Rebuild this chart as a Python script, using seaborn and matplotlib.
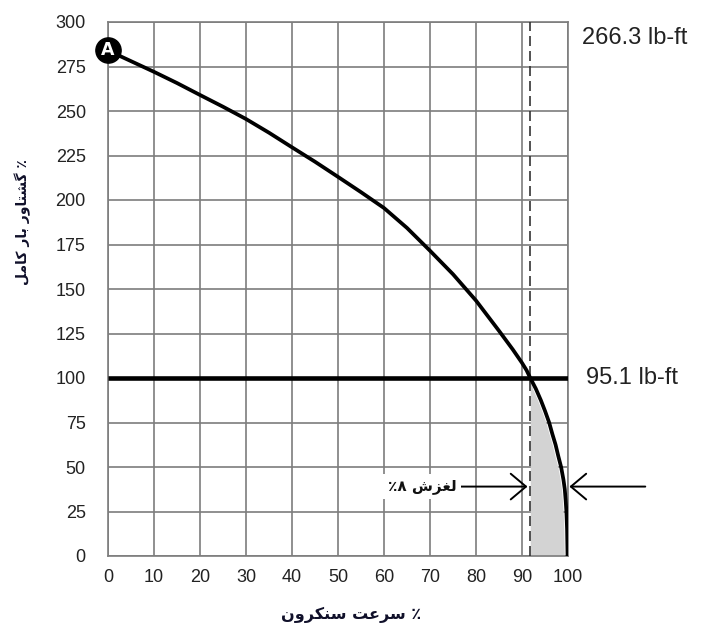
import numpy as np
import pandas as pd
import matplotlib
matplotlib.use("Agg")
import matplotlib.pyplot as plt
import seaborn as sns

# ---------------- data ----------------
speed_pct = [0, 5, 10, 15, 20, 25, 30, 35, 40, 45, 50, 55, 60, 65, 70, 75, 80, 85, 88, 90,
             91, 91.8, 93, 94.1, 95, 95.9, 96.6, 97.3, 97.9, 98.5, 99, 99.3, 99.5, 99.65, 99.8, 99.9]
torque_pct = [284, 278, 272, 265.7, 259, 252.4, 245.5, 237.8, 229.6, 221.5, 213, 204.4, 195.5, 184.3, 171.5, 158.3, 143.5, 126.5, 116, 108.5,
              104.3, 100, 94, 87.5, 81.5, 75, 68.5, 62.5, 56, 50, 43, 37.5, 31, 25, 15, 0]
full_load_pct = 100
slip_speed = 91.8
synchronous_speed = 100
arrow_level = 39
x_ticks = list(range(0, 101, 10))
y_ticks = list(range(0, 301, 25))
max_torque_label = "266.3 lb-ft"
full_load_label = "95.1 lb-ft"
point_label = "A"
xlabel_text = "\u066A \u0633\u0631\u0639\u062A \u0633\u0646\u06A9\u0631\u0648\u0646"          # ٪ سرعت سنکرون
ylabel_text = "\u066A \u06AF\u0634\u062A\u0627\u0648\u0631 \u0628\u0627\u0631 \u06A9\u0627\u0645\u0644"  # ٪ گشتاور بار کامل
slip_text = "\u0644\u063A\u0632\u0634 \u0668\u066A"                                             # لغزش ٨٪

# ---------------- minimal Persian shaping (presentation forms, visual order) ----------------
FORMS = {
    '\u0627': ('\uFE8D', '\uFE8E', None, None),
    '\u0628': ('\uFE8F', '\uFE90', '\uFE91', '\uFE92'),
    '\u062A': ('\uFE95', '\uFE96', '\uFE97', '\uFE98'),
    '\u0631': ('\uFEAD', '\uFEAE', None, None),
    '\u0632': ('\uFEAF', '\uFEB0', None, None),
    '\u0633': ('\uFEB1', '\uFEB2', '\uFEB3', '\uFEB4'),
    '\u0634': ('\uFEB5', '\uFEB6', '\uFEB7', '\uFEB8'),
    '\u0639': ('\uFEC9', '\uFECA', '\uFECB', '\uFECC'),
    '\u063A': ('\uFECD', '\uFECE', '\uFECF', '\uFED0'),
    '\u0644': ('\uFEDD', '\uFEDE', '\uFEDF', '\uFEE0'),
    '\u0645': ('\uFEE1', '\uFEE2', '\uFEE3', '\uFEE4'),
    '\u0646': ('\uFEE5', '\uFEE6', '\uFEE7', '\uFEE8'),
    '\u0648': ('\uFEED', '\uFEEE', None, None),
    '\u06A9': ('\uFB8E', '\uFB8F', '\uFB90', '\uFB91'),
    '\u06AF': ('\uFB92', '\uFB93', '\uFB94', '\uFB95'),
}


def shape_fa(text):
    out = []
    n = len(text)
    for i, ch in enumerate(text):
        if ch not in FORMS:
            out.append(ch)
            continue
        f = FORMS[ch]
        prev_j = i > 0 and text[i - 1] in FORMS and FORMS[text[i - 1]][2] is not None
        next_j = i + 1 < n and text[i + 1] in FORMS and f[2] is not None
        if prev_j and next_j:
            out.append(f[3])
        elif prev_j:
            out.append(f[1])
        elif next_j:
            out.append(f[2])
        else:
            out.append(f[0])
    return "".join(out)[::-1]


# ---------------- figure ----------------
sns.set_style("white")
plt.rcParams["font.family"] = ["Liberation Sans", "DejaVu Sans"]

fig = plt.figure(figsize=(7.06, 6.44), dpi=100)
ax = fig.add_axes([108 / 706, 1 - 556 / 644, 460 / 706, 534 / 644])

df = pd.DataFrame({"speed": speed_pct, "torque": torque_pct})

ax.set_xlim(0, 100)
ax.set_ylim(0, 300)
ax.set_xticks(x_ticks)
ax.set_yticks(y_ticks)
ax.grid(True, color="#7d7d7d", lw=1.2)
ax.set_axisbelow(True)
for s in ax.spines.values():
    s.set_color("#7d7d7d")
    s.set_linewidth(1.2)
ax.tick_params(axis="both", length=0, labelsize=13, colors="#222222")
ax.tick_params(axis="x", pad=9)
ax.tick_params(axis="y", pad=16)

# shaded slip region
sub = df[df["torque"] <= full_load_pct]
ax.fill_betweenx(sub["torque"], slip_speed, np.maximum(sub["speed"] - 0.7, slip_speed),
                 color="#d3d3d3", lw=0, zorder=2)

# dashed slip line
ax.axvline(slip_speed, color="#333333", lw=1.2, ls=(0, (6, 3)), zorder=3)

# full-load line
ax.plot([0, 100], [full_load_pct, full_load_pct], color="black", lw=3.3, zorder=4,
        solid_capstyle="butt")

# torque-speed curve
sns.lineplot(data=df, x="speed", y="torque", sort=False, estimator=None,
             color="black", lw=2.7, ax=ax, zorder=5)

# point A
ax.scatter([speed_pct[0]], [torque_pct[0]], s=330, color="black", zorder=6, clip_on=False)
ax.text(speed_pct[0], torque_pct[0], point_label, color="white", fontsize=12.5,
        fontweight="bold", ha="center", va="center", zorder=7, family="DejaVu Sans")

# right-hand value labels
ax.text(103, 291, max_torque_label, fontsize=17, ha="left", va="center",
        color="#222222", clip_on=False)
ax.text(104, full_load_pct, full_load_label, fontsize=17, ha="left", va="center",
        color="#222222", clip_on=False)

# slip arrows
arrow_kw = dict(arrowstyle="->,head_length=0.5,head_width=0.42", lw=1.4, color="black",
                mutation_scale=22, shrinkA=0, shrinkB=0)
ax.annotate("", xy=(slip_speed - 0.6, arrow_level), xytext=(75.8, arrow_level),
            arrowprops=arrow_kw, annotation_clip=False, zorder=6)
ax.annotate("", xy=(synchronous_speed + 0.3, arrow_level), xytext=(116.8, arrow_level),
            arrowprops=arrow_kw, annotation_clip=False, zorder=6)
ax.text(75.8, arrow_level, shape_fa(slip_text), fontsize=11, fontweight="bold",
        family=["DejaVu Sans"], ha="right", va="center", color="#111111", zorder=6,
        bbox=dict(boxstyle="square,pad=0.3", fc="white", ec="none"))

# axis labels
ax.set_xlabel(shape_fa(xlabel_text), fontsize=11.5, fontweight="bold",
              family=["DejaVu Sans"], color="#10102a")
ax.xaxis.set_label_coords(0.528, -0.095)
ax.set_ylabel(shape_fa(ylabel_text), fontsize=10, fontweight="bold",
              family=["DejaVu Sans"], color="#10102a")
ax.yaxis.set_label_coords(-0.168, 0.625)

fig.savefig("out.png", dpi=100)
